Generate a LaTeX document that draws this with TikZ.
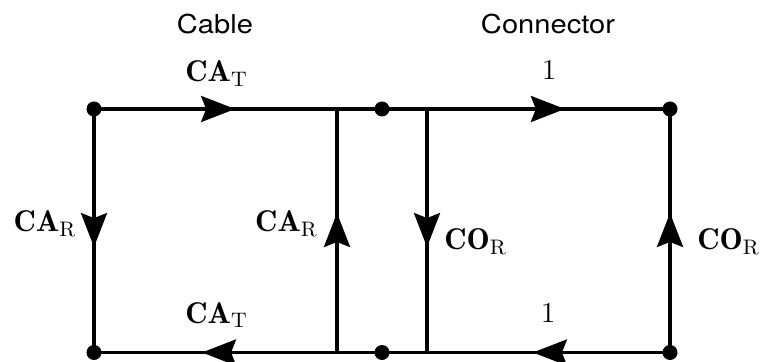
\documentclass[tikz,border=0pt]{standalone}
\usepackage{graphicx}
\usepackage{fontspec}
\setsansfont{TeX Gyre Heros}
\usetikzlibrary{arrows.meta,decorations.markings}
\newcommand{\widetext}[2]{\scalebox{#1}[1]{#2}}
\tikzset{
  wire/.style={line width=1.7pt},
  junction/.style={circle,fill,inner sep=0pt,minimum size=7.5pt},
  flow/.style={postaction={decorate,decoration={markings,
    mark=at position #1 with {\draw[line width=1.7pt,-{Stealth[length=17pt,width=13pt,inset=2.5pt]}] (-0.5pt,0) -- (0,0);}}}},
  heading/.style={font=\sffamily\fontsize{13}{15}\selectfont},
  gain/.style={font=\fontsize{15}{18}\selectfont,anchor=base},
}
\begin{document}
\begin{tikzpicture}[x=0.5pt,y=-0.5pt]
\useasboundingbox (0,0) rectangle (763,362);

% junction dots
\node[junction] (tl) at (94,109) {};
\node[junction] (tm) at (382,109) {};
\node[junction] (tr) at (670,109) {};
\node[junction] (bl) at (94,352.5) {};
\node[junction] (bm) at (382,352.5) {};
\node[junction] (br) at (670,352.5) {};
\coordinate (cat) at (337,109);
\coordinate (cab) at (337,352.5);
\coordinate (cot) at (427,109);
\coordinate (cob) at (427,352.5);

% horizontal branches
\draw[wire,flow=0.49] (tl.center) -- (tm.center);
\draw[wire,flow=0.635] (tm.center) -- (tr.center);
\draw[wire,flow=0.476] (br.center) -- (bm.center);
\draw[wire,flow=0.625] (bm.center) -- (bl.center);

% vertical branches
\draw[wire,flow=0.567] (tl.center) -- (bl.center);
\draw[wire,flow=0.573] (cab) -- (cat);
\draw[wire,flow=0.567] (cot) -- (cob);
\draw[wire,flow=0.573] (br.center) -- (tr.center);

% headings
\node[heading] (cable) at (215,24) {\widetext{1.12}{Cable}};
\node[heading] (conn) at (548,24) {\widetext{1.12}{Connector}};

% branch gains
\node[gain] (gtl) at (216.5,82) {\widetext{1.03}{$\mathbf{CA}_{\mathrm{T}}$}};
\node[gain] (gtr) at (549,80) {\widetext{1.03}{$1$}};
\node[gain] (gl) at (45,232) {\widetext{1.03}{$\mathbf{CA}_{\mathrm{R}}$}};
\node[gain] (gml) at (286.5,232) {\widetext{1.03}{$\mathbf{CA}_{\mathrm{R}}$}};
\node[gain] (gmr) at (475.5,250) {\widetext{1.03}{$\mathbf{CO}_{\mathrm{R}}$}};
\node[gain] (gr) at (728.5,250) {\widetext{1.03}{$\mathbf{CO}_{\mathrm{R}}$}};
\node[gain] (gbl) at (216.5,323) {\widetext{1.03}{$\mathbf{CA}_{\mathrm{T}}$}};
\node[gain] (gbr) at (548,322) {\widetext{1.03}{$1$}};
\end{tikzpicture}
\end{document}
